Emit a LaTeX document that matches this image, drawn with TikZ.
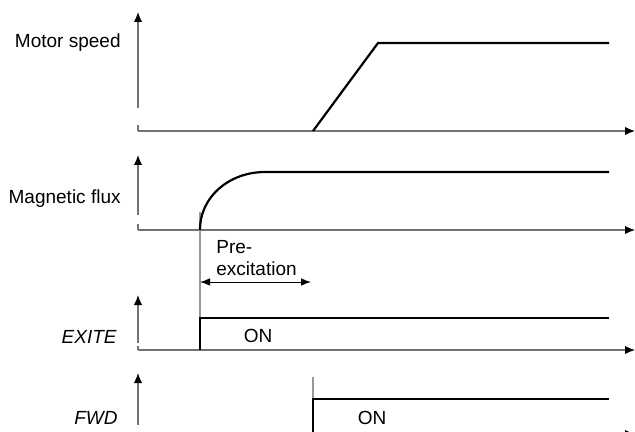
\documentclass[tikz,border=0pt]{standalone}
\usepackage{fontspec}
\setmainfont{Liberation Sans}
\usetikzlibrary{arrows.meta}

\tikzset{
    axis/.style={draw=black!55, line width=0.6pt},
    tip/.style={-{Latex[length=5pt, width=4.2pt, black]}},
    signal/.style={black, line width=1.1pt},
    marker/.style={draw=black!40, line width=0.6pt},
    lbl/.style={font=\fontsize{9.5}{11}\selectfont, anchor=east, inner sep=0pt},
    txt/.style={font=\fontsize{9.5}{11}\selectfont, inner sep=0pt}
}

\begin{document}
\begin{tikzpicture}[x=0.5pt, y=0.5pt, yscale=-1]

\useasboundingbox (0,0) rectangle (635,432);

\def\xo{138}
\def\xe{635}

% Axes (baseline / gap / gap / arrow tip)
\foreach \b/\g/\h/\t in {131/125/108/12, 230/224/215/155, 350/346/343/295, 434/434/425/373} {
    \draw[axis] (\xo, \b) -- (\xo, \g);
    \draw[axis, tip] (\xo, \h) -- (\xo, \t);
    \draw[axis, tip] (\xo, \b) -- (\xe, \b);
}

% Row labels
\node[lbl] (speed) at (121, 43) {Motor speed};
\node[lbl] (flux) at (121, 199) {Magnetic flux};
\node[lbl] (exite) at (117, 337) {\itshape EXITE};
\node[lbl] (fwd) at (118, 418) {\itshape FWD};

% Timing markers
\draw[marker] (200, 212) -- (200, 350);
\draw[marker] (313, 377) -- (313, 399);

% Motor speed
\draw[signal] (313, 131) -- (378, 43) -- (609, 43);

% Magnetic flux
\draw[signal] (200, 230) .. controls (200, 196) and (230, 172) .. (265, 172) -- (609, 172);

% Pre-excitation time
\coordinate (pre0) at (200, 282);
\coordinate (pre1) at (311, 282);
\draw[{Latex[length=5pt, width=3.8pt]}-{Latex[length=5pt, width=3.8pt]}, line width=0.5pt] (pre0) -- (pre1);
\node[txt, anchor=west, align=left] (pre) at (216, 258) {Pre-\\excitation};

% EXITE
\draw[signal] (200, 350) -- (200, 318) -- (609, 318);
\node[txt] (exon) at (258, 336) {ON};

% FWD
\draw[signal] (313, 434) -- (313, 399) -- (609, 399);
\node[txt] (fwdon) at (372, 418) {ON};

\end{tikzpicture}
\end{document}
